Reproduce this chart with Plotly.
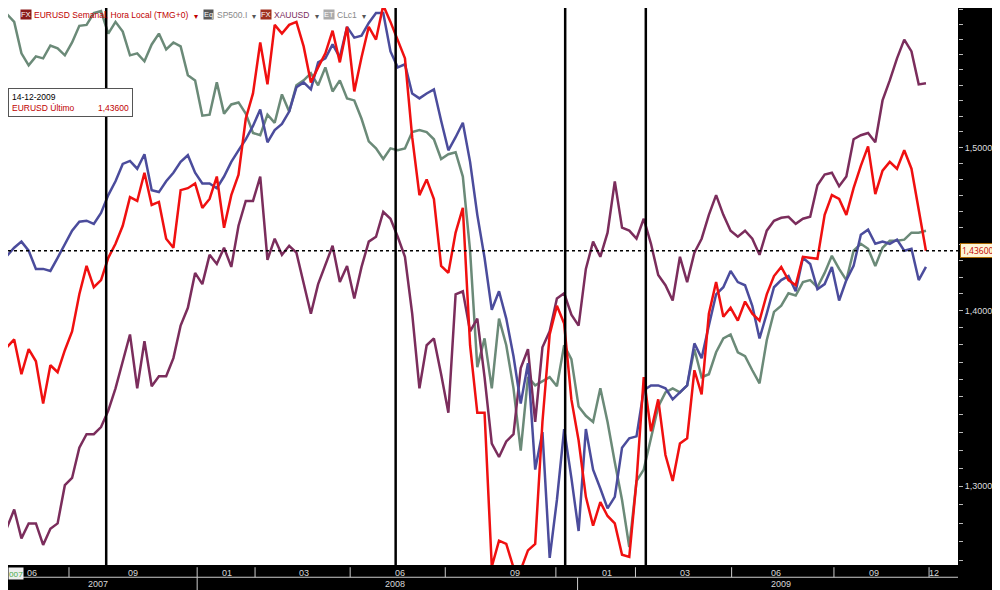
import plotly.graph_objects as go
import pandas as pd
import math

start_date = "2007-07-02"

eurusd = [1.3590,1.3786,1.3832,1.3630,1.3775,1.3705,1.3462,1.3682,1.3642,1.3769,1.3879,1.4098,1.4268,1.4140,1.4183,1.4317,1.4402,1.4512,1.4689,1.4665,1.4841,1.4640,1.4659,1.4433,1.4378,1.4732,1.4744,1.4774,1.4622,1.4677,1.4817,1.4500,1.4701,1.4829,1.5183,
1.5346,1.5680,1.5405,1.5797,1.5739,1.5797,1.5817,1.5654,1.5418,1.5516,1.5608,1.5758,1.5549,1.5784,1.5359,1.5582,1.5784,1.5699,1.5928,1.5817,1.5699,1.5575,1.5065,1.4701,1.4799,1.4677,1.4268,1.4226,1.4470,1.4622,1.3798,1.3410,1.3410,
1.2566,1.2705,1.2688,1.2561,1.2549,1.2653,1.2688,1.3358,1.3861,1.4030,1.3925,1.3486,1.3254,1.2942,1.2786,1.2913,1.2838,1.2798,1.2630,1.2618,1.3029,1.3613,1.3306,1.3486,1.3173,1.3029,1.3237,1.3266,1.3653,1.3514,1.3983,1.4171,
1.3965,1.4018,1.3942,1.4055,1.3983,1.3942,1.4098,1.4207,1.4262,1.4183,1.4152,1.4323,1.4317,1.4311,1.4579,1.4701,1.4677,1.4579,1.4744,1.4884,1.5007,1.4707,1.4854,1.4909,1.4866,1.4982,1.4866,1.4622,1.4360]

sp500 = [1.5758,1.5869,1.5817,1.5608,1.5529,1.5588,1.5575,1.5660,1.5641,1.5595,1.5680,1.5791,1.5797,1.5876,1.5889,1.5739,1.5817,1.5752,1.5595,1.5608,1.5556,1.5667,1.5739,1.5634,1.5680,1.5654,1.5464,1.5431,1.5203,1.5209,1.5418,1.5216,1.5275,1.5288,1.5216,
1.5092,1.5078,1.5209,1.5157,1.5340,1.5229,1.5399,1.5431,1.5477,1.5399,1.5516,1.5359,1.5431,1.5314,1.5301,1.5183,1.5039,1.4994,1.4927,1.4994,1.4982,1.4994,1.5098,1.5111,1.5098,1.5052,1.4927,1.4957,1.4970,1.4817,1.4360,1.3671,1.3838,
1.3549,1.3954,1.3798,1.3549,1.3197,1.3613,1.3566,1.3590,1.3613,1.3561,1.3798,1.3717,1.3445,1.3393,1.3358,1.3549,1.3358,1.3133,1.2925,1.2671,1.3029,1.3092,1.3277,1.3445,1.3526,1.3549,1.3526,1.3566,1.3775,1.3613,1.3630,1.3757,
1.3838,1.3861,1.3757,1.3734,1.3653,1.3578,1.3827,1.3994,1.4030,1.4104,1.4091,1.4171,1.4183,1.4140,1.4226,1.4329,1.4250,1.4183,1.4360,1.4402,1.4372,1.4268,1.4378,1.4421,1.4421,1.4427,1.4470,1.4470,1.4482]

xauusd = [1.2653,1.2775,1.2873,1.2717,1.2798,1.2798,1.2682,1.2769,1.2798,1.3006,1.3046,1.3214,1.3289,1.3289,1.3329,1.3422,1.3549,1.3705,1.3861,1.3549,1.3821,1.3561,1.3618,1.3618,1.3723,1.3913,1.4018,1.4226,1.4159,1.4335,1.4280,1.4378,1.4262,1.4512,1.4665,
1.4665,1.4817,1.4305,1.4433,1.4335,1.4390,1.4348,1.4159,1.3983,1.4159,1.4268,1.4390,1.4171,1.4268,1.4073,1.4262,1.4415,1.4445,1.4598,1.4555,1.4445,1.4323,1.3983,1.3549,1.3798,1.3838,1.3630,1.3410,1.4098,1.4116,1.3879,1.3954,1.3613,
1.3237,1.3162,1.3249,1.3289,1.3665,1.3775,1.3358,1.3786,1.3879,1.4073,1.4104,1.3977,1.3913,1.4250,1.4415,1.4323,1.4470,1.4787,1.4500,1.4482,1.4433,1.4555,1.4402,1.4213,1.4152,1.4061,1.4323,1.4171,1.4348,1.4433,1.4579,1.4701,
1.4579,1.4482,1.4445,1.4482,1.4433,1.4335,1.4482,1.4543,1.4561,1.4567,1.4524,1.4555,1.4567,1.4762,1.4829,1.4841,1.4756,1.4817,1.5052,1.5078,1.5092,1.5033,1.5301,1.5431,1.5575,1.5699,1.5621,1.5405,1.5412]

clc1 = [1.4250,1.4329,1.4378,1.4415,1.4360,1.4250,1.4250,1.4238,1.4317,1.4402,1.4482,1.4537,1.4543,1.4524,1.4591,1.4701,1.4787,1.4896,1.4915,1.4866,1.4957,1.4732,1.4720,1.4787,1.4841,1.4909,1.4951,1.4841,1.4774,1.4774,1.4744,1.4817,1.4909,1.4982,1.5052,
1.5137,1.5242,1.5033,1.5111,1.5150,1.5229,1.5386,1.5418,1.5373,1.5549,1.5575,1.5667,1.5582,1.5784,1.5712,1.5725,1.5810,1.5876,1.5876,1.5621,1.5516,1.5536,1.5346,1.5314,1.5346,1.5373,1.5170,1.4982,1.5065,1.5157,1.4909,1.4579,1.4317,
1.4006,1.4116,1.3954,1.3734,1.3462,1.3694,1.3092,1.3301,1.2613,1.2925,1.3318,1.3046,1.2757,1.3318,1.3092,1.2988,1.2879,1.2942,1.3214,1.3266,1.3277,1.3538,1.3566,1.3566,1.3549,1.3486,1.3526,1.3566,1.3809,1.3723,1.3913,1.4098,
1.4140,1.4238,1.4171,1.4152,1.4030,1.3838,1.3983,1.4140,1.4183,1.4207,1.4116,1.4317,1.4280,1.4128,1.4159,1.4262,1.4061,1.4183,1.4268,1.4457,1.4488,1.4402,1.4415,1.4402,1.4427,1.4360,1.4372,1.4183,1.4262]

month_labels = ["06","09","01","03","06","09","01","03","06","09","12"]
month_label_dates = ["2007-08-02","2007-11-08","2008-02-07","2008-04-21","2008-07-23","2008-11-11",
                     "2009-02-08","2009-04-25","2009-07-22","2009-10-25","2009-12-22"]
month_dividers = ["2007-09-07","2008-01-09","2008-03-05","2008-06-05","2008-09-05","2008-12-21",
                  "2009-03-08","2009-06-09","2009-09-16","2009-12-17"]
year_labels = ["2007","2008","2009"]
year_label_dates = ["2007-10-05","2008-07-18","2009-07-27"]
year_dividers = ["2008-01-09","2009-01-11"]
event_dates = ["2007-10-13","2008-07-19","2008-12-30","2009-03-18"]
y_ticks = [1.30, 1.40, 1.50]
last_value = 1.43600

W, H = 992, 582   # page body adds 8px offset
PW = 950
PH = 557

def dates_for(n):
    return pd.date_range(start_date, periods=n, freq="7D")

fig = go.Figure()
series = [("SP500.I", sp500, "#6b8a78"), ("XAUUSD", xauusd, "#7b2d5c"),
          ("CLc1", clc1, "#4b4c9c"), ("EURUSD", eurusd, "#f01010")]
for name, vals, col in series:
    fig.add_trace(go.Scatter(x=dates_for(len(vals)), y=vals, mode="lines", name=name,
                             line=dict(color=col, width=2.5), showlegend=False))

x0 = pd.Timestamp("2007-07-10")
x1 = pd.Timestamp("2010-01-14")

fig.add_shape(type="line", xref="x", yref="y", x0=x0, x1=x1, y0=last_value, y1=last_value,
              line=dict(color="black", width=1.5, dash="dot"))
for d in event_dates:
    fig.add_shape(type="line", xref="x", yref="paper", x0=d, x1=d, y0=0, y1=1,
                  line=dict(color="black", width=2.5))
for d in month_dividers:
    fig.add_shape(type="line", xref="x", yref="paper", x0=d, x1=d, y0=-0.004, y1=-0.022,
                  line=dict(color="#cccccc", width=1))
for d in year_dividers:
    fig.add_shape(type="line", xref="x", yref="paper", x0=d, x1=d, y0=-0.022, y1=-0.045,
                  line=dict(color="#cccccc", width=1))
fig.add_shape(type="line", xref="paper", yref="paper", x0=0.015, x1=1.0, y0=-0.022, y1=-0.022,
              line=dict(color="#cccccc", width=1))
for lab, d in zip(month_labels, month_label_dates):
    fig.add_annotation(x=d, y=-0.004, xref="x", yref="paper", text=lab, showarrow=False,
                       yanchor="top", borderpad=0,
                       font=dict(size=9, color="#d8d8d8", family="Liberation Sans Narrow, Arial"))
for lab, d in zip(year_labels, year_label_dates):
    fig.add_annotation(x=d, y=-0.024, xref="x", yref="paper", text=lab, showarrow=False,
                       yanchor="top", borderpad=0,
                       font=dict(size=9, color="#d8d8d8", family="Liberation Sans Narrow, Arial"))
fig.add_annotation(x=0, y=-0.004, xref="paper", yref="paper", text="007", showarrow=False,
                   xanchor="left", yanchor="top", borderpad=0,
                   font=dict(size=8, color="#44aa44"), bgcolor="#eeeeee")

hdr = [("FX", "#8b1a1a", "EURUSD Semanal, Hora Local (TMG+0)", "#c00000", 20, 192, "#c00000"),
       ("Eq", "#555555", "SP500.I", "#888888", 203, 250, "#555555"),
       ("FX", "#a03020", "XAUUSD", "#7b2d5c", 260, 313, "#555555"),
       ("ET", "#aaaaaa", "CLc1", "#888888", 323, 360, "#555555")]
for icon, ibg, txt, tc, px, apx, ac in hdr:
    fig.add_annotation(x=(px-8)/PW, y=1-1/PH, xref="paper", yref="paper", text=icon, showarrow=False,
                       xanchor="left", yanchor="top", font=dict(size=7.5, color="white", family="Arial"),
                       bgcolor=ibg, borderpad=0)
    fig.add_annotation(x=(px+4)/PW, y=1, xref="paper", yref="paper", text=txt,
                       showarrow=False, xanchor="left", yanchor="top",
                       font=dict(size=8.5, color=tc, family="Liberation Sans Narrow, Arial"))
    fig.add_annotation(x=(apx-8)/PW, y=1, xref="paper", yref="paper", text="▾",
                       showarrow=False, xanchor="left", yanchor="top", font=dict(size=8, color=ac))

fig.add_annotation(x=0, y=1-80/PH, xref="paper", yref="paper", xanchor="left", yanchor="top",
                   text="14-12-2009<br><span style='color:#c00000'>EURUSD Último&nbsp;&nbsp;&nbsp;&nbsp;&nbsp;&nbsp;&nbsp;&nbsp;&nbsp;&nbsp;1,43600</span>",
                   showarrow=False, align="left", bgcolor="white", bordercolor="#555555",
                   borderwidth=1, borderpad=3,
                   font=dict(size=8.5, color="black", family="Liberation Sans, Arial"))
fig.add_annotation(x=1.002, y=math.log10(last_value), xref="paper", yref="y", text="1,43600",
                   showarrow=False, xanchor="left", bgcolor="#fff4d6", bordercolor="#aa6600",
                   borderwidth=1, borderpad=1, font=dict(size=8.5, color="#c00000"))

minor = [round(1.25 + 0.01*i, 2) for i in range(36)]
fig.update_layout(
    width=W, height=H, margin=dict(l=0, r=W-PW, t=0, b=H-PH),
    paper_bgcolor="black", plot_bgcolor="white", separators=",.",
    xaxis=dict(range=[x0, x1], showticklabels=False, showgrid=False, zeroline=False, ticks=""),
    yaxis=dict(type="log", side="right", range=[math.log10(1.2575), math.log10(1.591)],
               tickvals=minor,
               ticktext=[("%.5f" % v).replace(".", ",") if round(v, 2) in y_ticks else "" for v in minor],
               ticks="outside", ticklen=4, tickcolor="#bbbbbb", showgrid=False, zeroline=False,
               tickfont=dict(size=9, color="#dddddd", family="Liberation Sans, Arial")),
)
fig.write_html("out.html")
